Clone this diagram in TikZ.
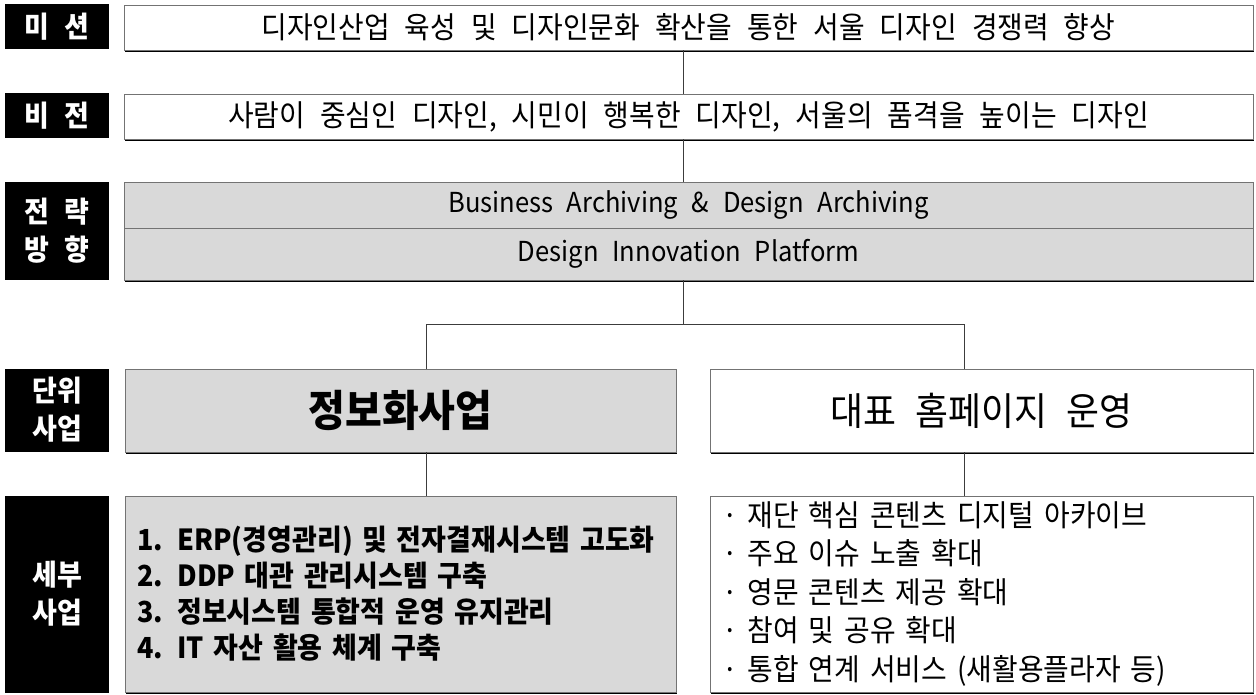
\documentclass[tikz,border=0pt]{standalone}
\usepackage{fontspec}
\setmainfont{Noto Sans CJK KR}[WordSpace=2.4,FakeStretch=0.93]
\usetikzlibrary{shadows}

\definecolor{boxgray}{RGB}{217,217,217}
\definecolor{edgegray}{RGB}{115,115,115}
\definecolor{linkgray}{RGB}{60,60,60}

\tikzset{
  tag/.style={fill=black,text=white,align=center,inner sep=0pt,minimum width=104pt,
              font=\bfseries\fontsize{29}{38}\selectfont},
  panel/.style={draw=edgegray,line width=0.8pt,fill=white,inner sep=0pt,
                general shadow={fill=black,shadow xshift=1.3pt,shadow yshift=-2.3pt}},
  grey panel/.style={panel,fill=boxgray},
  link/.style={draw=linkgray,line width=0.9pt}
}

\begin{document}
\begin{tikzpicture}[x=1pt,y=-1pt]

\useasboundingbox (0,0) rectangle (1256,694);

% row labels
\node[tag,minimum height=45pt] (tMission) at (57,26.5) {미 션};
\node[tag,minimum height=45pt] (tVision) at (57,115.5) {비 전};
\node[tag,minimum height=98pt] (tStrat) at (57,231) {전 략\\방 향};
\node[tag,minimum height=83pt] (tUnit) at (57,410) {단위\\사업};
\node[tag,minimum height=197pt] (tDetail) at (57,594) {세부\\사업};

% mission, vision
\node[panel,minimum width=1129pt,minimum height=45pt,font=\fontsize{30}{34}\selectfont]
  (mission) at (688.5,27.5) {디자인산업 육성 및 디자인문화 확산을 통한 서울 디자인 경쟁력 향상};
\node[panel,minimum width=1129pt,minimum height=45pt,font=\fontsize{30}{34}\selectfont]
  (vision) at (688.5,116.5) {사람이 중심인 디자인, 시민이 행복한 디자인, 서울의 품격을 높이는 디자인};

% strategy
\node[grey panel,minimum width=1129pt,minimum height=46pt,font=\fontsize{27.5}{30}\selectfont]
  (strat1) at (688.5,205) {Business Archiving \& Design Archiving};
\node[grey panel,minimum width=1129pt,minimum height=52pt,font=\fontsize{27.5}{30}\selectfont]
  (strat2) at (688.5,254) {Design Innovation Platform};

% unit projects
\node[grey panel,minimum width=551pt,minimum height=83pt,font=\bfseries\fontsize{43}{48}\selectfont]
  (unitA) at (400.5,410.5) {정보화사업};
\node[panel,minimum width=543pt,minimum height=83pt,font=\fontsize{38.5}{44}\selectfont]
  (unitB) at (981.5,410.5) {대표 홈페이지 운영};

% detail projects
\node[grey panel,minimum width=551pt,minimum height=196pt,inner xsep=12pt,
      text width=527pt,align=left,font=\bfseries\fontsize{29}{36}\selectfont]
  (detA) at (400.5,594) {1. ERP(경영관리) 및 전자결재시스템 고도화\\
                         2. DDP 대관 관리시스템 구축\\
                         3. 정보시스템 통합적 운영 유지관리\\
                         4. IT 자산 활용 체계 구축};
\node[panel,minimum width=543pt,minimum height=196pt,inner xsep=12pt,
      text width=519pt,align=left,font=\fontsize{30}{38.5}\selectfont]
  (detB) at (981.5,594) {· 재단 핵심 콘텐츠 디지털 아카이브\\
                         · 주요 이슈 노출 확대\\
                         · 영문 콘텐츠 제공 확대\\
                         · 참여 및 공유 확대\\
                         · 통합 연계 서비스 (새활용플라자 등)};

% connectors
\coordinate (hub) at (683,324);
\coordinate (brA) at (426,324);
\coordinate (brB) at (964,324);

\draw[link] (mission.south -| hub) -- (vision.north -| hub);
\draw[link] (vision.south -| hub) -- (strat1.north -| hub);
\draw[link] (strat2.south -| hub) -- (hub);
\draw[link] (brA) -- (brB);
\draw[link] (brA) -- (unitA.north -| brA);
\draw[link] (brB) -- (unitB.north -| brB);
\draw[link] (unitA.south -| brA) -- (detA.north -| brA);
\draw[link] (unitB.south -| brB) -- (detB.north -| brB);

\end{tikzpicture}
\end{document}
